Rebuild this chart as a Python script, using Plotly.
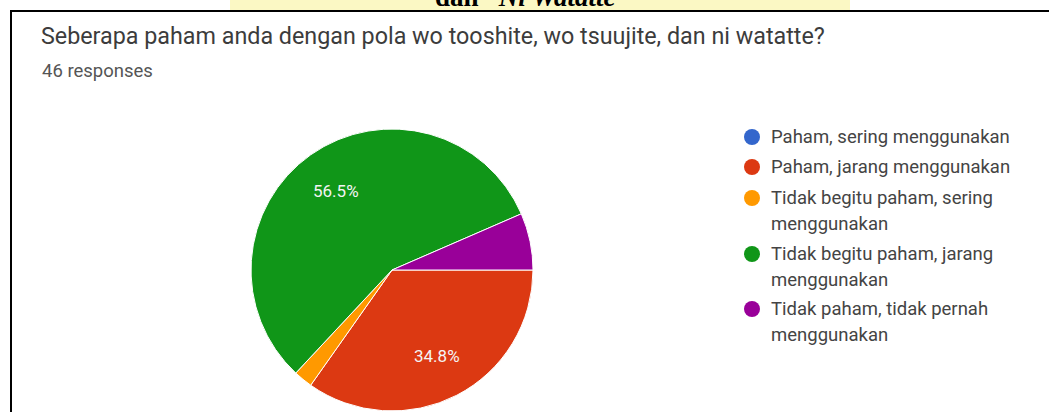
import math
import plotly.graph_objects as go

# ---- data ----
categories = [
    "Paham, sering menggunakan",
    "Paham, jarang menggunakan",
    "Tidak begitu paham, sering menggunakan",
    "Tidak begitu paham, jarang menggunakan",
    "Tidak paham, tidak pernah menggunakan",
]
legend_lines = [
    ["Paham, sering menggunakan"],
    ["Paham, jarang menggunakan"],
    ["Tidak begitu paham, sering", "menggunakan"],
    ["Tidak begitu paham, jarang", "menggunakan"],
    ["Tidak paham, tidak pernah", "menggunakan"],
]
responses = [0, 16, 1, 26, 3]
colors = ["#3366cc", "#dc3912", "#ff9900", "#109618", "#990099"]
title_text = "Seberapa paham anda dengan pola wo tooshite, wo tsuujite, dan ni watatte?"
subtitle_text = "46 responses"
header_text = "dan \u201c<i>Ni Watatte</i>\u201d"

W, H = 1049, 412


def px(x):
    return x / W


def py(y):
    return 1 - y / H


# pie geometry (pixels)
cx, cy, r = 392, 270, 141
start_deg = 90  # first slice starts at 3 o'clock, clockwise

fig = go.Figure()
fig.add_trace(go.Pie(
    labels=categories,
    values=responses,
    sort=False,
    direction="clockwise",
    rotation=start_deg,
    marker=dict(colors=colors, line=dict(color="white", width=1)),
    textinfo="none",
    showlegend=False,
    hoverinfo="label+percent",
    domain=dict(x=[px(cx - r), px(cx + r)], y=[py(cy + r), py(cy - r)]),
))

shapes = []
annotations = []

# percentage labels placed along each slice's bisector (large slices only)
total = sum(responses)
cum = 0
for v in responses:
    frac = v / total
    mid = math.radians(start_deg + (cum + frac / 2) * 360)
    cum += frac
    if frac >= 0.1:
        lx = cx + 0.69 * r * math.sin(mid)
        ly = cy - 0.69 * r * math.cos(mid)
        annotations.append(dict(text=f"{frac * 100:.1f}%", xref="paper", yref="paper",
                                x=px(lx), y=py(ly), xanchor="center", yanchor="middle",
                                showarrow=False,
                                font=dict(family="Roboto", size=17, color="#f4f4f4")))

# header strip (watermark background) and cut-off heading
shapes.append(dict(type="rect", xref="paper", yref="paper",
                   x0=px(230), x1=px(850), y0=py(10), y1=py(-5),
                   fillcolor="#fbf8c4", line=dict(width=0), layer="below"))
annotations.append(dict(text="<b>" + header_text + "</b>", xref="paper", yref="paper",
                        x=px(532), y=py(14), xanchor="center", yanchor="bottom",
                        showarrow=False,
                        font=dict(family="Liberation Serif", size=27, color="black")))

# card border
shapes.append(dict(type="rect", xref="paper", yref="paper",
                   x0=px(11), x1=px(1100), y0=py(460), y1=py(11),
                   line=dict(color="black", width=2), fillcolor="rgba(0,0,0,0)"))

# title + subtitle
annotations.append(dict(text=title_text, xref="paper", yref="paper",
                        x=px(39), y=py(36), xanchor="left", yanchor="middle",
                        showarrow=False,
                        font=dict(family="Roboto", size=23.3, color="#3c3c3c")))
annotations.append(dict(text=subtitle_text, xref="paper", yref="paper",
                        x=px(40), y=py(71), xanchor="left", yanchor="middle",
                        showarrow=False,
                        font=dict(family="Roboto", size=18.5, color="#555555")))

# custom legend (circle markers + wrapped labels)
row_y = [137, 167, 198, 254, 309]
line_gap = 26
for lines, col, y0 in zip(legend_lines, colors, row_y):
    shapes.append(dict(type="circle", xref="paper", yref="paper",
                       xsizemode="pixel", ysizemode="pixel",
                       xanchor=px(752), yanchor=py(y0),
                       x0=-8, x1=8, y0=-8, y1=8,
                       fillcolor=col, line=dict(width=0)))
    for i, t in enumerate(lines):
        annotations.append(dict(text=t, xref="paper", yref="paper",
                                x=px(769), y=py(y0 + i * line_gap),
                                xanchor="left", yanchor="middle", showarrow=False,
                                font=dict(family="Roboto", size=18.5, color="#444444")))

fig.update_layout(
    width=W, height=H,
    margin=dict(l=0, r=0, t=0, b=0),
    paper_bgcolor="white",
    plot_bgcolor="white",
    shapes=shapes,
    annotations=annotations,
)

fig.write_html("out.html")
